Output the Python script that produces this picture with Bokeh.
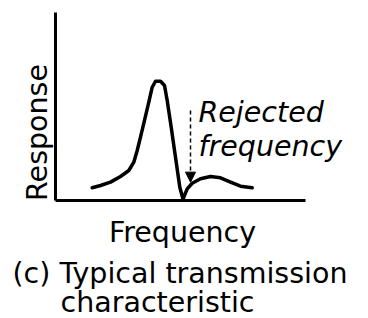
import math
from bokeh.plotting import figure
from bokeh.models import Range1d, Arrow, NormalHead
from bokeh.core.properties import value
from bokeh.embed import file_html
from bokeh.resources import INLINE

# Data (frequency in arbitrary units, response in relative units)
freq = [1.468, 1.8, 2.2, 2.6, 2.932, 3.132, 3.268, 3.4, 3.56, 3.732, 3.868, 4.0, 4.2,
        4.36, 4.468, 4.628, 4.8, 4.972, 5.1, 5.268, 5.468, 5.8, 6.2, 6.6, 7.0, 7.4, 7.868]
resp = [0.106, 0.125, 0.153, 0.2, 0.25, 0.319, 0.417, 0.528, 0.667, 0.819, 0.944, 0.994, 0.994,
        0.958, 0.833, 0.611, 0.361, 0.111, 0.0125, 0.0975, 0.144, 0.181, 0.2, 0.189, 0.153,
        0.119, 0.106]
freq_axis_max = 10.0
resp_axis_max = 1.567
rejected_freq = 5.4
arrow_from = 0.75
arrow_to = 0.153

FONT = "DejaVu Sans"
FS = "28.5px"

p = figure(width=368, height=318, output_backend="svg", toolbar_location=None,
           x_range=Range1d(-2.2, 12.52), y_range=Range1d(-118/120, 200/120),
           x_axis_type=None, y_axis_type=None,
           min_border=0, min_border_left=0, min_border_right=0,
           min_border_top=0, min_border_bottom=0)
p.outline_line_color = None
p.grid.visible = False
p.background_fill_color = "white"

# axes
p.line([0, 0], [0, resp_axis_max], line_color="black", line_width=3)
p.line([0, freq_axis_max], [0, 0], line_color="black", line_width=3)

# curve
p.line(freq, resp, line_color="black", line_width=3.5, line_join="round", line_cap="round")

# dashed arrow
p.add_layout(Arrow(x_start=rejected_freq, y_start=arrow_from, x_end=rejected_freq, y_end=arrow_to,
                   line_color="black", line_width=1.5, line_dash="4 3",
                   end=NormalHead(size=10, fill_color="black", line_color="black")))

# texts
common = dict(text_font=value(FONT), text_font_size=FS, text_baseline="alphabetic",
              text_color="black")
p.text(x=[5.72], y=[0.733], text=["Rejected"], text_font_style="italic", text_align="left", **common)
p.text(x=[5.72], y=[0.45], text=["frequency"], text_font_style="italic", text_align="left", **common)
p.text(x=[-0.72], y=[0.567], text=["Response"], angle=math.pi/2, text_align="center", **common)
p.text(x=[5.08], y=[-0.267], text=["Frequency"], text_align="center", **common)
p.text(x=[-1.72], y=[-0.608], text=["(c) Typical transmission"], text_align="left", **common)
p.text(x=[0.2], y=[-0.85], text=["characteristic"], text_align="left", **common)

open("out.html", "w").write(file_html(p, INLINE))
